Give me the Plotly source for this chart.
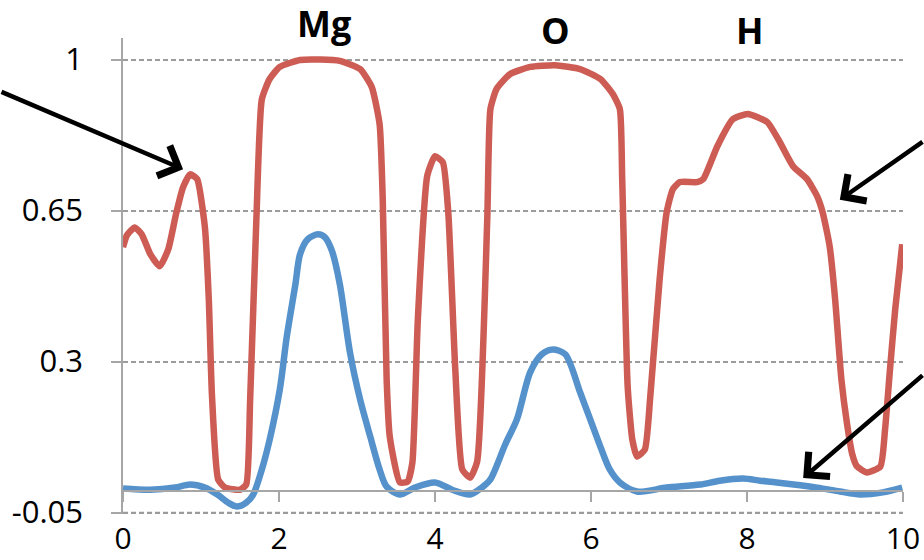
import plotly.graph_objects as go

# Red profile (upper curve)
red_x = [0, 0.05, 0.15, 0.24, 0.35, 0.47, 0.58, 0.68, 0.77, 0.86, 0.95, 1.05, 1.10, 1.14,
         1.22, 1.31, 1.50, 1.58, 1.63, 1.71, 1.78, 1.88, 2.01, 2.27, 2.53, 2.78, 3.04, 3.19,
         3.29, 3.33, 3.38, 3.42, 3.55, 3.65, 3.71, 3.78, 3.90, 4.00, 4.10, 4.17, 4.26, 4.35,
         4.45, 4.54, 4.67, 4.71, 4.79, 4.96, 5.22, 5.54, 5.86, 6.12, 6.28, 6.37, 6.40, 6.47,
         6.53, 6.59, 6.69, 6.76, 6.88, 6.97, 7.05, 7.14, 7.36, 7.44, 7.62, 7.82, 8.01, 8.26,
         8.42, 8.59, 8.77, 8.90, 8.97, 9.06, 9.13, 9.21, 9.28, 9.35, 9.41, 9.54, 9.71, 9.77,
         9.83, 9.90, 9.99]
red_y = [0.565, 0.593, 0.611, 0.595, 0.549, 0.521, 0.560, 0.642, 0.704, 0.734, 0.723, 0.611,
         0.444, 0.224, 0.027, 0.008, 0.003, 0.015, 0.212, 0.630, 0.908, 0.955, 0.983, 0.999,
         1.000, 0.997, 0.978, 0.936, 0.850, 0.676, 0.259, 0.126, 0.020, 0.022, 0.066, 0.398,
         0.730, 0.776, 0.762, 0.646, 0.282, 0.050, 0.031, 0.068, 0.630, 0.885, 0.932, 0.966,
         0.983, 0.987, 0.978, 0.955, 0.920, 0.885, 0.723, 0.242, 0.119, 0.080, 0.096, 0.219,
         0.491, 0.646, 0.700, 0.716, 0.716, 0.723, 0.799, 0.862, 0.874, 0.855, 0.809, 0.753,
         0.723, 0.683, 0.646, 0.567, 0.444, 0.259, 0.159, 0.085, 0.057, 0.043, 0.057, 0.143,
         0.275, 0.421, 0.572]

# Blue profile (lower curve)
blue_x = [0, 0.35, 0.67, 0.86, 1.05, 1.21, 1.35, 1.46, 1.58, 1.67, 1.78, 1.88, 2.01, 2.10,
          2.21, 2.27, 2.37, 2.50, 2.59, 2.68, 2.78, 2.91, 3.04, 3.17, 3.29, 3.38, 3.55, 3.74,
          4.00, 4.22, 4.45, 4.60, 4.71, 4.90, 5.05, 5.22, 5.37, 5.51, 5.67, 5.86, 5.99, 6.12,
          6.24, 6.37, 6.59, 6.97, 7.40, 7.65, 7.95, 8.17, 8.38, 8.90, 9.19, 9.45, 9.74, 9.99]
blue_y = [0.006, 0.003, 0.008, 0.015, 0.008, -0.008, -0.027, -0.036, -0.027, -0.008, 0.050,
          0.119, 0.235, 0.358, 0.479, 0.549, 0.584, 0.595, 0.588, 0.556, 0.479, 0.321, 0.212,
          0.126, 0.050, 0.010, -0.008, 0.008, 0.020, 0.003, -0.008, 0.008, 0.027, 0.108, 0.166,
          0.275, 0.317, 0.328, 0.317, 0.229, 0.166, 0.103, 0.050, 0.020, -0.001, 0.008, 0.015,
          0.024, 0.029, 0.024, 0.020, 0.008, -0.001, -0.008, -0.003, 0.008]

y_ticks = [-0.05, 0.3, 0.65, 1]
y_tick_text = ["-0.05", "0.3", "0.65", "1"]
x_ticks = [0, 2, 4, 6, 8, 10]

element_labels = ["Mg", "O", "H"]
element_x = [2.58, 5.54, 8.04]
element_shift = [-12, -19, -19]

RED = "#CC5C54"
BLUE = "#5592CC"
GRAY = "#A6A6A6"
GRID = "#9C9C9C"
FONT = "Open Sans"

fig = go.Figure()
fig.add_trace(go.Scatter(x=red_x, y=red_y, mode="lines",
                         line=dict(color=RED, width=6.5, shape="spline", smoothing=0.5),
                         hoverinfo="skip"))
fig.add_trace(go.Scatter(x=blue_x, y=blue_y, mode="lines",
                         line=dict(color=BLUE, width=6.5, shape="spline", smoothing=0.8),
                         hoverinfo="skip"))
# invisible trace so the zero-crossing axis is rendered
fig.add_trace(go.Scatter(x=[0, 10], y=[0, 0], mode="lines", xaxis="x2",
                         line=dict(width=0), hoverinfo="skip"))

# lower bound sits just under -0.05 so that gridline is still drawn
y_lo, y_hi = -0.0532, 1.05

fig.update_layout(
    width=924, height=560,
    margin=dict(l=123, r=21, t=38, b=46),
    paper_bgcolor="white", plot_bgcolor="white",
    showlegend=False,
    font=dict(family=FONT, color="black"),
    xaxis=dict(
        range=[0, 10], tickvals=x_ticks, showline=False, ticks="",
        showgrid=False, zeroline=False, automargin=False, ticklabelstandoff=4,
        tickfont=dict(size=30, family=FONT, color="black"),
    ),
    xaxis2=dict(
        overlaying="x", matches="x", anchor="free",
        position=(0 - y_lo) / (y_hi - y_lo),
        range=[0, 10], tickvals=x_ticks, showline=True, linecolor=GRAY, linewidth=1.5,
        ticks="outside", ticklen=10, tickcolor=GRAY, tickwidth=1.5,
        showticklabels=False, showgrid=False, zeroline=False, automargin=False,
    ),
    yaxis=dict(
        range=[y_lo, y_hi], tickvals=y_ticks, ticktext=y_tick_text,
        showgrid=True, gridcolor=GRID, gridwidth=1.5, griddash="5px,3px",
        showline=True, linecolor=GRAY, linewidth=1.5,
        ticks="outside", ticklen=10, tickcolor=GRAY, tickwidth=1.5,
        zeroline=False, ticklabelstandoff=22, automargin=False,
        tickfont=dict(size=31, family=FONT, color="black"),
    ),
)

# dashed gridline at the lowest tick (edge of the plotting area)
fig.add_shape(type="line", xref="paper", yref="y", x0=0, x1=1,
              y0=y_ticks[0], y1=y_ticks[0],
              line=dict(color=GRID, width=1.5, dash="5px,3px"), layer="below")

for label, lx, sh in zip(element_labels, element_x, element_shift):
    fig.add_annotation(x=lx, y=1.0, xref="x", yref="paper", text=f"<b>{label}</b>",
                       showarrow=False, yanchor="bottom", yshift=sh,
                       font=dict(size=36, family=FONT, color="black"))

# pointer arrows
arrows = [
    dict(x=0.77, y=0.746, ax=-200, ay=-78),
    dict(x=9.19, y=0.675, ax=100, ay=-59),
    dict(x=8.72, y=0.03, ax=135, ay=-104),
]
for a in arrows:
    fig.add_annotation(x=a["x"], y=a["y"], xref="x", yref="y", ax=a["ax"], ay=a["ay"],
                       showarrow=True, arrowhead=4, arrowsize=1.4, arrowwidth=4.5,
                       arrowcolor="black", text="")

fig.write_html("out.html")
